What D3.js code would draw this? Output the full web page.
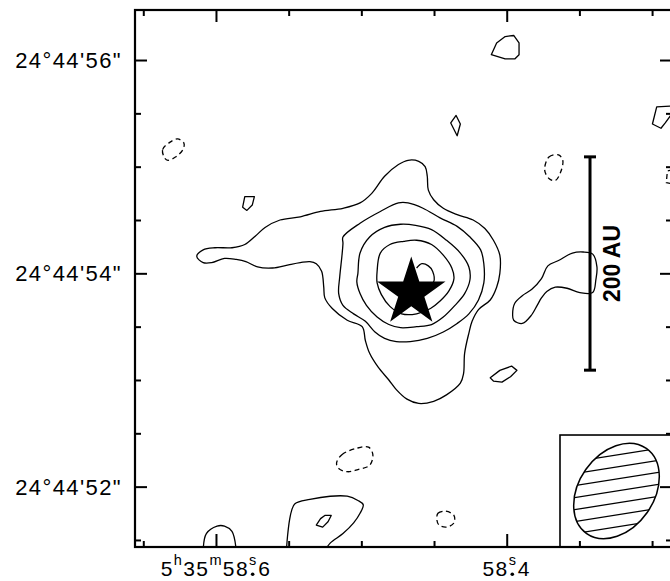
<!DOCTYPE html>
<html><head><meta charset="utf-8">
<script src="https://cdn.jsdelivr.net/npm/d3@7"></script>
<style>body{margin:0;background:#fff}svg{display:block}text{font-family:"Liberation Sans",Arial,Helvetica,sans-serif;fill:#000}</style>
</head><body><svg id="c" width="670" height="581"></svg>
<script>
// ---------- DATA ----------
// map centre reference: RA 5h35m58.6s, Dec +24°44'54"
const ra0 = 58.6, dec0 = 54;
// field of view (RA seconds, Dec arcsec of 24°44')
const raDomain = [58.6557, 58.2863];
const decDomain = [56.469, 51.434];
// ticks
const raTicks = [58.65, 58.60, 58.55, 58.50, 58.45, 58.40, 58.35, 58.30];
const raMajor = [58.60, 58.40];
const raTickLabels = [{ra: 58.6, h: "5", m: "35", s: "58", f: "6"}, {ra: 58.4, h: null, m: null, s: "58", f: "4"}];
const decTicks = [56, 55.5, 55, 54.5, 54, 53.5, 53, 52.5, 52, 51.5];
const decMajor = [56, 54, 52];
const decTickLabels = [{dec: 56, t: "24°44'56\""}, {dec: 54, t: "24°44'54\""}, {dec: 52, t: "24°44'52\""}];
// contours: offsets [dRA (arcsec, east +), dDec (arcsec)] from reference
const contourL1 = [[0.18,0.16],[0.12,0.22],[0.01,0.24],[-0.15,0.24],[-0.27,0.27],[-0.37,0.35],[-0.46,0.43],[-0.60,0.50],[-0.79,0.53],[-0.98,0.58],[-1.19,0.61],[-1.35,0.66],[-1.46,0.75],[-1.58,0.91],[-1.71,1.02],[-1.80,1.06],[-1.90,1.05],[-1.96,1.00],[-1.98,0.91],[-1.99,0.78],[-2.04,0.69],[-2.13,0.61],[-2.26,0.55],[-2.41,0.50],[-2.52,0.42],[-2.60,0.31],[-2.66,0.17],[-2.66,0.00],[-2.63,-0.13],[-2.57,-0.25],[-2.46,-0.34],[-2.40,-0.45],[-2.37,-0.56],[-2.33,-0.75],[-2.32,-0.94],[-2.29,-1.03],[-2.16,-1.14],[-2.04,-1.20],[-1.90,-1.22],[-1.79,-1.18],[-1.69,-1.09],[-1.62,-1.00],[-1.52,-0.88],[-1.44,-0.75],[-1.40,-0.63],[-1.37,-0.50],[-1.23,-0.44],[-1.09,-0.33],[-1.02,-0.23],[-1.01,-0.13],[-0.99,0.02],[-0.94,0.09],[-0.88,0.11],[-0.79,0.10],[-0.68,0.08],[-0.53,0.05],[-0.39,0.06],[-0.28,0.11],[-0.19,0.13],[-0.08,0.14],[0.04,0.10],[0.12,0.10]];
const contourL2 = [[-1.19,0.34],[-1.35,0.47],[-1.54,0.58],[-1.71,0.66],[-1.80,0.66],[-1.94,0.61],[-2.10,0.52],[-2.26,0.44],[-2.38,0.34],[-2.48,0.22],[-2.51,0.09],[-2.51,-0.09],[-2.46,-0.25],[-2.37,-0.38],[-2.26,-0.47],[-2.13,-0.55],[-1.98,-0.61],[-1.82,-0.64],[-1.69,-0.64],[-1.58,-0.61],[-1.49,-0.55],[-1.40,-0.45],[-1.29,-0.38],[-1.19,-0.30],[-1.15,-0.19],[-1.16,-0.03],[-1.18,0.16],[-1.19,0.28]];
const contourL3 = [[-1.33,0.00],[-1.35,0.19],[-1.44,0.34],[-1.58,0.43],[-1.73,0.46],[-1.87,0.45],[-2.02,0.41],[-2.16,0.31],[-2.29,0.19],[-2.37,0.06],[-2.38,-0.06],[-2.33,-0.19],[-2.24,-0.30],[-2.13,-0.41],[-2.02,-0.48],[-1.88,-0.50],[-1.73,-0.51],[-1.62,-0.48],[-1.51,-0.41],[-1.41,-0.30],[-1.35,-0.19],[-1.32,-0.08]];
const contourL4 = [[-1.51,0.02],[-1.54,0.19],[-1.63,0.27],[-1.76,0.30],[-1.88,0.31],[-2.02,0.27],[-2.13,0.17],[-2.21,0.05],[-2.23,-0.05],[-2.18,-0.17],[-2.10,-0.26],[-2.01,-0.33],[-1.88,-0.38],[-1.74,-0.38],[-1.63,-0.31],[-1.55,-0.20],[-1.51,-0.09]];
const contourL5 = [[-1.88,0.05],[-1.93,0.09],[-1.99,0.07],[-2.03,0.02],[-2.04,-0.08],[-1.96,-0.14],[-1.87,-0.11]];
const blobTop = [[-2.58,2.05],[-2.63,2.16],[-2.71,2.22],[-2.79,2.23],[-2.84,2.16],[-2.84,2.05],[-2.80,2.01],[-2.71,2.01]];
const blobDiamond = [[-2.20,1.41],[-2.25,1.48],[-2.29,1.40],[-2.26,1.29]];
const edgeTopRight = [[-4.28,1.57],[-4.13,1.56],[-4.09,1.40],[-4.17,1.36],[-4.21,1.41],[-4.26,1.48],[-4.28,1.50]];
const blobLeft = [[-0.25,0.62],[-0.27,0.72],[-0.36,0.72],[-0.34,0.64],[-0.29,0.59]];
const blobEast = [[-2.78,-0.38],[-2.80,-0.28],[-2.87,-0.21],[-2.96,-0.15],[-3.05,-0.05],[-3.11,0.07],[-3.21,0.12],[-3.34,0.19],[-3.44,0.20],[-3.53,0.18],[-3.57,0.06],[-3.56,-0.06],[-3.53,-0.18],[-3.41,-0.18],[-3.29,-0.14],[-3.18,-0.13],[-3.10,-0.17],[-3.05,-0.23],[-3.01,-0.30],[-2.95,-0.40],[-2.87,-0.47],[-2.79,-0.44]];
const blobSouthEast = [[-2.57,-0.98],[-2.66,-0.91],[-2.77,-0.87],[-2.82,-0.91],[-2.76,-0.97],[-2.68,-1.02],[-2.60,-1.01]];
const arcBottom = [[-0.66,-2.60],[-0.67,-2.47],[-0.69,-2.31],[-0.71,-2.22],[-0.74,-2.16],[-0.88,-2.12],[-1.07,-2.09],[-1.23,-2.09],[-1.33,-2.13],[-1.38,-2.17],[-1.35,-2.25],[-1.29,-2.34],[-1.19,-2.44],[-1.07,-2.53],[-1.02,-2.60]];
const blobBottomInner = [[-0.94,-2.36],[-0.98,-2.30],[-1.02,-2.27],[-1.08,-2.27],[-1.05,-2.33],[-1.00,-2.38]];
const arcBottomLeft = [[0.12,-2.60],[0.09,-2.44],[-0.01,-2.37],[-0.08,-2.37],[-0.15,-2.42],[-0.19,-2.60]];
const negLeft = [[0.48,1.08],[0.50,1.16],[0.43,1.23],[0.36,1.26],[0.30,1.22],[0.31,1.16],[0.38,1.09],[0.45,1.06]];
const negEast = [[-3.08,0.97],[-3.12,1.09],[-3.21,1.11],[-3.25,1.06],[-3.23,0.95],[-3.18,0.87],[-3.12,0.89]];
const negEdge = [[-4.28,0.97],[-4.23,0.96],[-4.22,0.85],[-4.28,0.84]];
const negBottom = [[-1.13,-1.78],[-1.18,-1.70],[-1.32,-1.64],[-1.43,-1.63],[-1.47,-1.70],[-1.44,-1.80],[-1.33,-1.84],[-1.23,-1.86],[-1.15,-1.83]];
const negSmall = [[-2.07,-2.31],[-2.08,-2.25],[-2.15,-2.23],[-2.23,-2.27],[-2.23,-2.34],[-2.16,-2.38],[-2.09,-2.36]];
// star position (offset, arcsec)
const starOffset = [-1.83, -0.18];
// beam (arcsec, deg)
const beamMajor = 0.975, beamMinor = 0.703, beamPA = -35;
// scale bar: 200 AU at 100 pc -> 2"
const scaleAU = 200, distancePc = 100, scaleBarRA = 58.3427, scaleBarDec = 54.092;

const contours = [
  {pts: contourL1, closed: true, smooth: true, neg: false},
  {pts: contourL2, closed: true, smooth: true, neg: false},
  {pts: contourL3, closed: true, smooth: true, neg: false},
  {pts: contourL4, closed: true, smooth: true, neg: false},
  {pts: contourL5, closed: false, smooth: true, neg: false},
  {pts: blobTop, closed: true, smooth: false, neg: false},
  {pts: blobDiamond, closed: true, smooth: false, neg: false},
  {pts: edgeTopRight, closed: false, smooth: false, neg: false},
  {pts: blobLeft, closed: true, smooth: false, neg: false},
  {pts: blobEast, closed: true, smooth: true, neg: false},
  {pts: blobSouthEast, closed: true, smooth: false, neg: false},
  {pts: arcBottom, closed: false, smooth: true, neg: false},
  {pts: blobBottomInner, closed: true, smooth: false, neg: false},
  {pts: arcBottomLeft, closed: false, smooth: true, neg: false},
  {pts: negLeft, closed: true, smooth: true, neg: true},
  {pts: negEast, closed: true, smooth: true, neg: true},
  {pts: negEdge, closed: false, smooth: false, neg: true},
  {pts: negBottom, closed: true, smooth: true, neg: true},
  {pts: negSmall, closed: true, smooth: true, neg: true}
];

// ---------- DRAW ----------
const frame = {left: 135, top: 10, right: 672, bottom: 547};
const svg = d3.select("#c");
const x = d3.scaleLinear().domain(raDomain).range([frame.left, frame.right]);
const y = d3.scaleLinear().domain(decDomain).range([frame.top, frame.bottom]);
const decDeg = 24 + 44/60 + 54/3600;
const secToArcsec = 15 * Math.cos(decDeg * Math.PI / 180);
const toRA = d => ra0 + d / secToArcsec;
const pxPerArcsec = Math.abs(y(dec0 - 1) - y(dec0));

const defs = svg.append("defs");
defs.append("clipPath").attr("id", "plotclip").append("rect")
  .attr("x", frame.left).attr("y", frame.top)
  .attr("width", frame.right - frame.left).attr("height", frame.bottom - frame.top);

const g = svg.append("g").attr("clip-path", "url(#plotclip)");
contours.forEach(c => {
  const curve = c.closed ? (c.smooth ? d3.curveCatmullRomClosed.alpha(0.5) : d3.curveLinearClosed)
                         : (c.smooth ? d3.curveCatmullRom.alpha(0.5) : d3.curveLinear);
  const ln = d3.line().x(p => x(toRA(p[0]))).y(p => y(dec0 + p[1])).curve(curve);
  g.append("path").attr("d", ln(c.pts)).attr("fill", "none").attr("stroke", "#000")
    .attr("stroke-width", 1.3).attr("stroke-linejoin", "round")
    .attr("stroke-dasharray", c.neg ? "5,3.5" : null);
});

// star
g.append("path").attr("d", d3.symbol(d3.symbolStar, 1455)())
  .attr("transform", `translate(${x(toRA(starOffset[0]))},${y(dec0 + starOffset[1])})`)
  .attr("fill", "#000");

// scale bar
const barLen = scaleAU / distancePc; // arcsec
const bx = x(scaleBarRA), by1 = y(scaleBarDec + barLen/2), by2 = y(scaleBarDec - barLen/2);
const sb = svg.append("g").attr("stroke", "#000").attr("stroke-width", 3);
sb.append("line").attr("x1", bx).attr("x2", bx).attr("y1", by1).attr("y2", by2);
sb.append("line").attr("x1", bx-6).attr("x2", bx+6).attr("y1", by1).attr("y2", by1);
sb.append("line").attr("x1", bx-6).attr("x2", bx+6).attr("y1", by2).attr("y2", by2);
svg.append("text").attr("transform", `translate(${bx+30},${y(scaleBarDec)}) rotate(-90)`)
  .attr("text-anchor", "middle").attr("font-size", 23).attr("font-weight", "bold")
  .text(`${scaleAU} AU`);

// beam box (bottom-right corner)
const boxSize = 1.05 * pxPerArcsec;
const boxX = 560, boxY = frame.bottom - boxSize;
svg.append("rect").attr("x", boxX).attr("y", boxY).attr("width", 140).attr("height", boxSize)
  .attr("fill", "#fff").attr("stroke", "#000").attr("stroke-width", 1.6);
const bcx = boxX + boxSize/2 + 0.5, bcy = boxY + boxSize/2;
const rx = beamMajor/2 * pxPerArcsec, ry = beamMinor/2 * pxPerArcsec;
const rot = -(90 + beamPA);
defs.append("clipPath").attr("id", "beamclip").append("ellipse")
  .attr("cx", 0).attr("cy", 0).attr("rx", rx).attr("ry", ry).attr("transform", `rotate(${rot})`);
const bg = svg.append("g").attr("transform", `translate(${bcx},${bcy})`);
const hatch = bg.append("g").attr("clip-path", "url(#beamclip)");
const ang = 9 * Math.PI / 180, sp = 12;
d3.range(-5, 6).forEach(k => {
  hatch.append("line").attr("x1", -80).attr("x2", 80)
    .attr("y1", k*sp + 80*Math.tan(ang)).attr("y2", k*sp - 80*Math.tan(ang))
    .attr("stroke", "#000").attr("stroke-width", 1.3);
});
bg.append("ellipse").attr("rx", rx).attr("ry", ry).attr("transform", `rotate(${rot})`)
  .attr("fill", "none").attr("stroke", "#000").attr("stroke-width", 1.5);

// axes ticks
const minorRA = raTicks.filter(v => !raMajor.some(m => Math.abs(m - v) < 1e-6));
const minorDec = decTicks.filter(v => !decMajor.includes(v));
function addAxis(axisFn, scale, vals, size, tx, ty) {
  svg.append("g").attr("transform", `translate(${tx},${ty})`)
    .call(axisFn(scale).tickValues(vals).tickSize(-size).tickSizeOuter(0).tickFormat(""))
    .call(a => a.select(".domain").remove())
    .call(a => a.selectAll("line").attr("stroke", "#000").attr("stroke-width", 2));
}
addAxis(d3.axisBottom, x, minorRA, 6, 0, frame.bottom);
addAxis(d3.axisBottom, x, raMajor, 13, 0, frame.bottom);
addAxis(d3.axisTop, x, minorRA, 6, 0, frame.top);
addAxis(d3.axisTop, x, raMajor, 12, 0, frame.top);
addAxis(d3.axisLeft, y, minorDec, 6, frame.left, 0);
addAxis(d3.axisLeft, y, decMajor, 12, frame.left, 0);
addAxis(d3.axisRight, y, minorDec, 6, frame.right, 0);
addAxis(d3.axisRight, y, decMajor, 12, frame.right, 0);

// frame
svg.append("rect").attr("x", frame.left).attr("y", frame.top)
  .attr("width", frame.right - frame.left).attr("height", frame.bottom - frame.top)
  .attr("fill", "none").attr("stroke", "#000").attr("stroke-width", 2.2);

// Dec labels
decTickLabels.forEach(d => {
  svg.append("text").attr("x", 122).attr("y", y(d.dec) + 8).attr("text-anchor", "end")
    .attr("font-size", 22).attr("letter-spacing", 1.4).text(d.t);
});
// RA labels (sexagesimal with superscript units; the decimal point sits under the "s")
const raBase = 576;
raTickLabels.forEach(d => {
  const t = svg.append("text").attr("x", x(d.ra)).attr("y", raBase).attr("text-anchor", "middle")
    .attr("font-size", 21).attr("letter-spacing", 1.4);
  let raised = false;
  const norm = s => { const ts = t.append("tspan").text(s); if (raised) { ts.attr("dy", 11); raised = false; } return ts; };
  const sup = s => { const ts = t.append("tspan").attr("font-size", 14.5).attr("dy", -11).text(s); raised = true; return ts; };
  if (d.h) { norm(d.h); sup("h"); }
  if (d.m) { norm(d.m); sup("m"); }
  norm(d.s);
  const sNode = sup("s");
  norm(d.f).attr("dx", 0.5);
  const bb = sNode.node().getBBox();
  svg.append("circle").attr("cx", bb.x + (bb.width - 1.4) / 2).attr("cy", raBase - 1.7).attr("r", 1.8).attr("fill", "#000");
});
</script></body></html>
